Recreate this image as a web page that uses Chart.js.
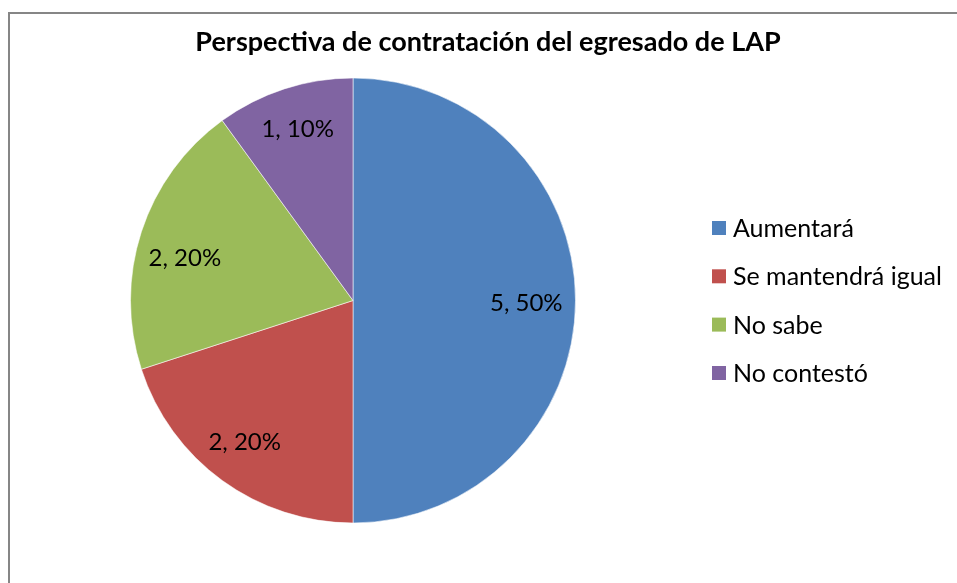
<!DOCTYPE html>
<html>
<head>
<meta charset="utf-8">
<script src="https://cdn.jsdelivr.net/npm/chart.js@4/dist/chart.umd.min.js"></script>
<style>
  html, body { margin: 0; padding: 0; background: #ffffff; overflow: hidden; }
  #wrap { position: relative; width: 957px; height: 583px; overflow: hidden; background: #fff; }
  #frame { position: absolute; left: 8px; top: 12px; width: 1000px; height: 700px; border: 2px solid #868686; box-sizing: border-box; }
  #c { position: absolute; left: 8px; top: 0px; }
</style>
</head>
<body>
<div id="wrap">
  <div id="frame"></div>
  <canvas id="c" width="960" height="583"></canvas>
</div>
<script>
const chartTitle = "Perspectiva de contratación del egresado de LAP";
const categories = ["Aumentará", "Se mantendrá igual", "No sabe", "No contestó"];
const values = [5, 2, 2, 1];
const sliceColors = ["#4F81BD", "#C0504D", "#9BBB59", "#8064A2"];

const FONT = "Lato, 'Open Sans', sans-serif";
// small per-label nudges (style only) to mimic the original label placement
const labelNudge = [[-2.5, 2], [-5, -1], [-1, 11], [-1, -5]];

const overlay = {
  id: 'overlay',
  afterDatasetsDraw(chart) {
    const ctx = chart.ctx;
    const meta = chart.getDatasetMeta(0);
    const data = chart.data.datasets[0].data;
    const total = data.reduce((a, b) => a + b, 0);
    ctx.save();
    ctx.fillStyle = '#000000';
    ctx.font = "24px " + FONT;
    ctx.textAlign = 'center';
    ctx.textBaseline = 'middle';
    meta.data.forEach((arc, i) => {
      const p = arc.getProps(['x', 'y', 'startAngle', 'endAngle', 'outerRadius'], true);
      const mid = (p.startAngle + p.endAngle) / 2;
      const r = p.outerRadius * 0.79;
      const pct = Math.round(data[i] / total * 100);
      const n = labelNudge[i] || [0, 0];
      ctx.fillText(data[i] + ", " + pct + "%", p.x + Math.cos(mid) * r + n[0], p.y + Math.sin(mid) * r + 1 + n[1]);
    });
    ctx.font = "bold 27px " + FONT;
    ctx.fillText(chart.options.plugins.overlay.title, 480, 42);
    ctx.textAlign = 'left';
    ctx.font = "25px " + FONT;
    const legendY = [228, 276.3, 324.6, 373];
    chart.data.labels.forEach((lab, i) => {
      const y = legendY[i];
      ctx.fillStyle = chart.data.datasets[0].backgroundColor[i];
      ctx.fillRect(704, y - 7, 14, 14);
      ctx.fillStyle = '#000000';
      ctx.fillText(lab, 725, y + 1);
    });
    ctx.restore();
  }
};

new Chart(document.getElementById('c'), {
  type: 'pie',
  data: {
    labels: categories,
    datasets: [{
      data: values,
      backgroundColor: sliceColors,
      borderColor: 'rgba(255,255,255,0.55)',
      borderWidth: 1
    }]
  },
  options: {
    responsive: false,
    animation: false,
    radius: 222.5,
    layout: { padding: { left: 115, right: 385, top: 70.5, bottom: 52.5 } },
    plugins: {
      legend: { display: false },
      title: { display: false },
      tooltip: { enabled: false },
      overlay: { title: chartTitle }
    }
  },
  plugins: [overlay]
});
</script>
</body>
</html>
